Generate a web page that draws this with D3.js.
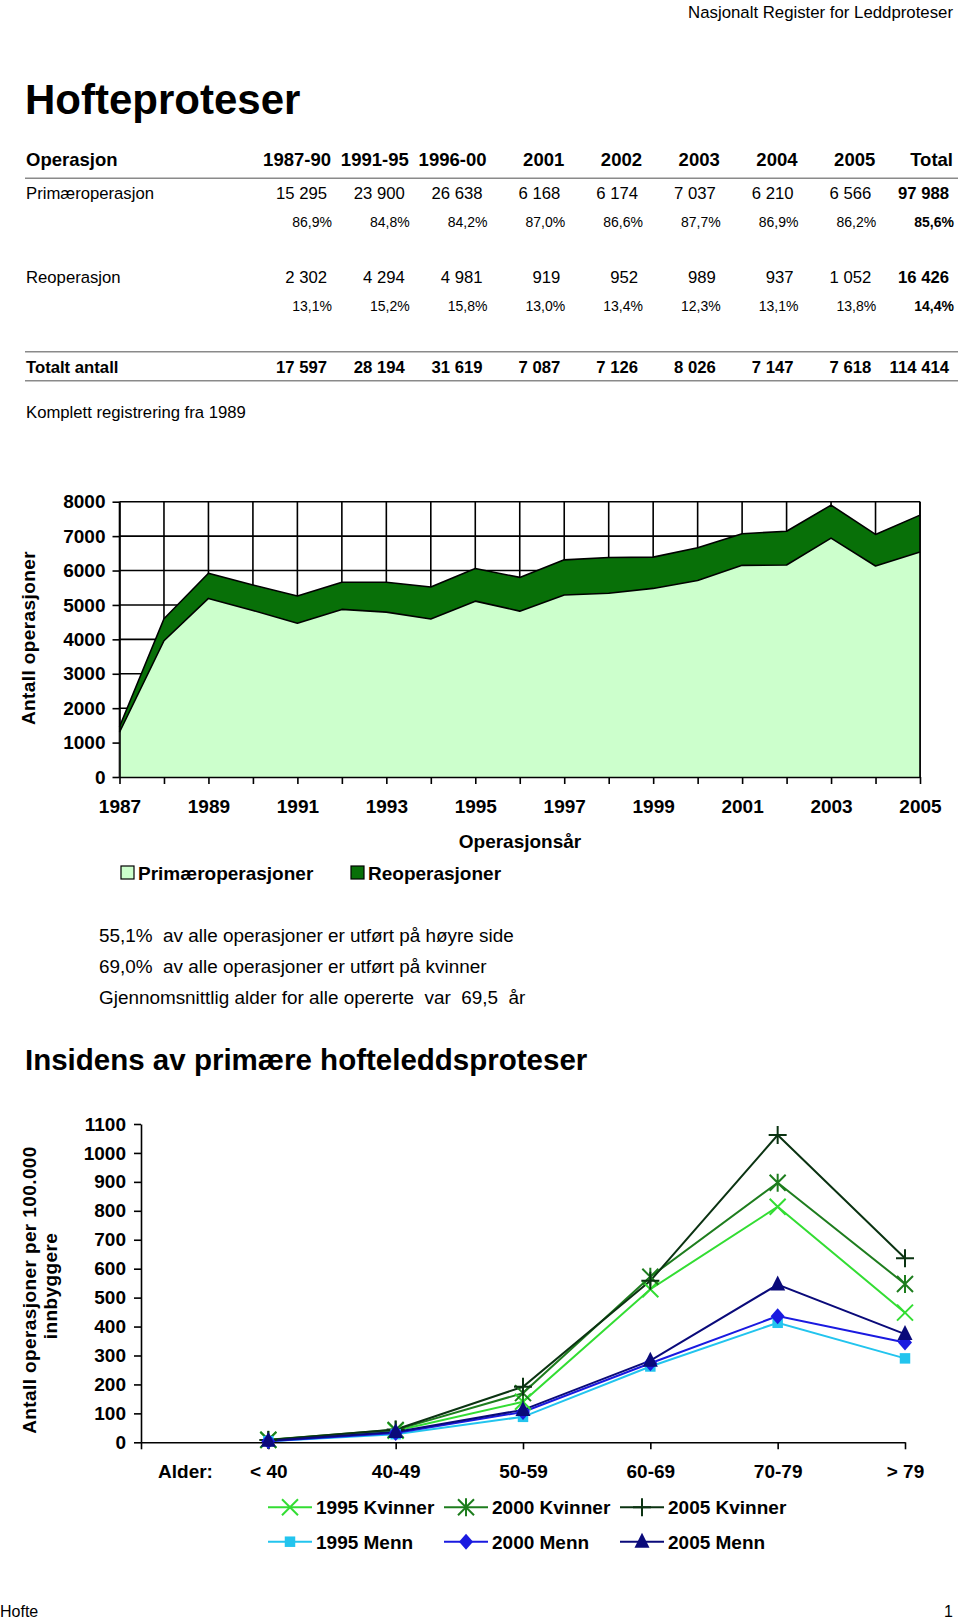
<!DOCTYPE html>
<html><head><meta charset="utf-8">
<script src="https://cdn.jsdelivr.net/npm/d3@7"></script>
<style>
body{margin:0;background:#fff;}
svg{display:block;font-family:"Liberation Sans",Arial,Helvetica,sans-serif;}
text{white-space:pre;}
</style></head><body>
<svg id="c" width="960" height="1620"></svg>
<script>
// ---------- Table data ----------
const periods = ["1987-90","1991-95","1996-00","2001","2002","2003","2004","2005","Total"];
const primaer = [15295,23900,26638,6168,6174,7037,6210,6566,97988];
const primaerPct = [86.9,84.8,84.2,87.0,86.6,87.7,86.9,86.2,85.6];
const reop = [2302,4294,4981,919,952,989,937,1052,16426];
const reopPct = [13.1,15.2,15.8,13.0,13.4,12.3,13.1,13.8,14.4];
const totalt = [17597,28194,31619,7087,7126,8026,7147,7618,114414];

// ---------- Area chart data ----------
const years = [1987,1988,1989,1990,1991,1992,1993,1994,1995,1996,1997,1998,1999,2000,2001,2002,2003,2004,2005];
const primYear = [1300,3960,5190,4840,4470,4870,4790,4590,5110,4820,5290,5340,5480,5710,6150,6160,6940,6130,6540];
const reopYear = [160,640,730,740,790,790,870,930,950,980,1020,1040,910,950,920,980,960,920,1070];
const areaTicks = [0,1000,2000,3000,4000,5000,6000,7000,8000];
const areaSeries = ["Primæroperasjoner","Reoperasjoner"];

// ---------- Line chart data ----------
const ages = ["< 40","40-49","50-59","60-69","70-79","> 79"];
const k1995 = [8,40,140,529,814,448];
const k2000 = [9,43,170,572,897,547];
const k2005 = [8,44,192,558,1062,636];
const m1995 = [4,28,88,262,413,290];
const m2000 = [4,32,105,273,436,345];
const m2005 = [5,36,112,282,545,374];
const lineTicks = [0,100,200,300,400,500,600,700,800,900,1000,1100];
const lineNames = ["1995 Kvinner","2000 Kvinner","2005 Kvinner","1995 Menn","2000 Menn","2005 Menn"];

const svg = d3.select("#c");
svg.append("rect").attr("width",960).attr("height",1620).attr("fill","#fff");

const loc = d3.formatLocale({decimal:",", thousands:" ", grouping:[3], currency:["",""]});
const fmtN = loc.format(",d");
const fmtP = v => loc.format(".1f")(v) + "%";

// ---------- Header ----------
svg.append("text").attr("x",953).attr("y",18).attr("text-anchor","end")
  .attr("font-size",16.8).text("Nasjonalt Register for Leddproteser");
svg.append("text").attr("x",25).attr("y",114).attr("font-size",42).attr("font-weight","bold")
  .text("Hofteproteser");

// ---------- Table ----------
const col = d3.scalePoint().domain(periods).range([331,953]);
const T = svg.append("g");
T.append("text").attr("x",26).attr("y",166).attr("font-size",18.5).attr("font-weight","bold").text("Operasjon");
T.selectAll(".hd").data(periods).join("text").attr("x",d=>col(d)).attr("y",166)
  .attr("text-anchor","end").attr("font-size",18.5).attr("font-weight","bold").text(d=>d);
[178.3,351.7,380.7].forEach(yy=>T.append("line").attr("x1",25).attr("x2",958).attr("y1",yy).attr("y2",yy)
  .attr("stroke","#8a8a8a").attr("stroke-width",1.5));

function numRow(label, vals, y, boldAll){
  T.append("text").attr("x",26).attr("y",y).attr("font-size",16.7)
    .attr("font-weight",boldAll?"bold":"normal").text(label);
  T.selectAll(null).data(vals).join("text").attr("x",(d,i)=>col(periods[i])-4).attr("y",y)
    .attr("text-anchor","end").attr("font-size",16.7)
    .attr("font-weight",(d,i)=>boldAll||i===vals.length-1?"bold":"normal").text(d=>fmtN(d));
}
function pctRow(vals, y){
  T.selectAll(null).data(vals).join("text").attr("x",(d,i)=>col(periods[i])+1).attr("y",y)
    .attr("text-anchor","end").attr("font-size",14)
    .attr("font-weight",(d,i)=>i===vals.length-1?"bold":"normal").text(d=>fmtP(d));
}
numRow("Primæroperasjon", primaer, 199, false);
pctRow(primaerPct, 226.5);
numRow("Reoperasjon", reop, 283, false);
pctRow(reopPct, 310.7);
numRow("Totalt antall", totalt, 373, true);
T.append("text").attr("x",26).attr("y",417.5).attr("font-size",16.7).text("Komplett registrering fra 1989");

// ---------- Area chart ----------
const x1 = d3.scaleLinear().domain([1987,2005]).range([119.5,920]);
const y1 = d3.scaleLinear().domain([0,8000]).range([777,501.7]);
const A = svg.append("g");
A.selectAll(".hg").data(areaTicks.slice(1)).join("line")
  .attr("x1",x1(1987)).attr("x2",x1(2005)).attr("y1",d=>y1(d)).attr("y2",d=>y1(d))
  .attr("stroke","#000").attr("stroke-width",1.6);
A.selectAll(".vg").data(years).join("line")
  .attr("x1",d=>x1(d)).attr("x2",d=>x1(d)).attr("y1",y1(8000)).attr("y2",y1(0))
  .attr("stroke","#000").attr("stroke-width",1.6);

const tbl = years.map((yr,i)=>({year:yr, p:primYear[i], r:reopYear[i]}));
const stack = d3.stack().keys(["p","r"])(tbl);
const areaGen = d3.area().x(d=>x1(d.data.year)).y0(d=>y1(d[0])).y1(d=>y1(d[1]));
const fills = ["#ccffcc","#087008"];
A.selectAll(".ar").data(stack).join("path").attr("d",areaGen).attr("fill",(d,i)=>fills[i]);
const topLine = d3.line().x(d=>x1(d.data.year)).y(d=>y1(d[1]));
A.selectAll(".al").data(stack).join("path").attr("d",topLine).attr("fill","none")
  .attr("stroke","#000").attr("stroke-width",1.6).attr("stroke-linejoin","round");
A.append("line").attr("x1",x1(2005)).attr("x2",x1(2005)).attr("y1",y1(8000)).attr("y2",y1(0))
  .attr("stroke","#000").attr("stroke-width",1.6);

const ax1 = A.append("g").attr("transform",`translate(${x1(1987)},0)`)
  .call(d3.axisLeft(y1).tickValues(areaTicks).tickSize(7).tickSizeOuter(0).tickPadding(7).tickFormat(d3.format("d")));
const ax1b = A.append("g").attr("transform",`translate(0,${y1(0)})`)
  .call(d3.axisBottom(x1).tickValues(years).tickSize(7).tickSizeOuter(0).tickPadding(16)
    .tickFormat(d=> (d-1987)%2===0 ? String(d) : ""));
[ax1,ax1b].forEach(g=>{
  g.selectAll("path,line").attr("stroke","#000").attr("stroke-width",1.6);
  g.selectAll("text").attr("font-size",19).attr("font-weight","bold").attr("fill","#000")
    .attr("font-family","Liberation Sans, Arial, sans-serif");
});
A.append("text").attr("transform","translate(35,638) rotate(-90)").attr("text-anchor","middle")
  .attr("font-size",19).attr("font-weight","bold").attr("letter-spacing",0.4).text("Antall operasjoner");
A.append("text").attr("x",520).attr("y",848).attr("text-anchor","middle")
  .attr("font-size",19).attr("font-weight","bold").text("Operasjonsår");
const legX = [121,351];
areaSeries.forEach((s,i)=>{
  A.append("rect").attr("x",legX[i]).attr("y",866).attr("width",13).attr("height",13)
    .attr("fill",fills[i]).attr("stroke","#000").attr("stroke-width",1.2);
  A.append("text").attr("x",legX[i]+17).attr("y",879.5).attr("font-size",19).attr("font-weight","bold").text(s);
});

// ---------- Text block ----------
const lines = ["55,1%  av alle operasjoner er utført på høyre side",
               "69,0%  av alle operasjoner er utført på kvinner",
               "Gjennomsnittlig alder for alle opererte  var  69,5  år"];
svg.selectAll(".tb").data(lines).join("text").attr("x",99).attr("y",(d,i)=>941.5+i*31)
  .attr("font-size",18.9).text(d=>d);

svg.append("text").attr("x",25).attr("y",1070).attr("font-size",29.5).attr("font-weight","bold")
  .text("Insidens av primære hofteleddsproteser");

// ---------- Line chart ----------
const x2 = d3.scalePoint().domain(["Alder:",...ages]).range([141,905]);
const y2 = d3.scaleLinear().domain([0,1100]).range([1442.3,1124]);
const L = svg.append("g");
const ax2 = L.append("g").attr("transform",`translate(${x2("Alder:")},0)`)
  .call(d3.axisLeft(y2).tickValues(lineTicks).tickSize(7).tickSizeOuter(0).tickPadding(8).tickFormat(d3.format("d")));
const ax2b = L.append("g").attr("transform",`translate(0,${y2(0)})`)
  .call(d3.axisBottom(x2).tickSize(7).tickSizeOuter(0).tickPadding(15));
[ax2,ax2b].forEach(g=>{
  g.selectAll("path,line").attr("stroke","#000").attr("stroke-width",1.6);
  g.selectAll("text").attr("font-size",19).attr("font-weight","bold").attr("fill","#000")
    .attr("font-family","Liberation Sans, Arial, sans-serif");
});
ax2b.selectAll(".tick").filter(d=>d==="Alder:").select("text").attr("x",44);

L.append("text").attr("transform","translate(36,1290) rotate(-90)").attr("text-anchor","middle")
  .attr("font-size",19).attr("font-weight","bold").attr("letter-spacing",0.4).text("Antall operasjoner per 100.000");
L.append("text").attr("transform","translate(56.5,1286) rotate(-90)").attr("text-anchor","middle")
  .attr("font-size",19).attr("font-weight","bold").attr("letter-spacing",0.4).text("innbyggere");

const series = [
  {name:lineNames[0], v:k1995, c:"#33dd33", m:"x"},
  {name:lineNames[1], v:k2000, c:"#1e7d1e", m:"star"},
  {name:lineNames[2], v:k2005, c:"#0b3312", m:"plus"},
  {name:lineNames[3], v:m1995, c:"#22c4ee", m:"square"},
  {name:lineNames[4], v:m2000, c:"#1a1ae0", m:"diamond"},
  {name:lineNames[5], v:m2005, c:"#0a0a7a", m:"triangle"}
];
function marker(g, type, color){
  const s = 8;
  if(type==="x") g.append("path").attr("d",`M${-s},${-s}L${s},${s}M${-s},${s}L${s},${-s}`).attr("stroke",color).attr("stroke-width",2).attr("fill","none");
  else if(type==="star") g.append("path").attr("d",`M${-s},${-s}L${s},${s}M${-s},${s}L${s},${-s}M0,${-s-1}L0,${s+1}`).attr("stroke",color).attr("stroke-width",2).attr("fill","none");
  else if(type==="plus") g.append("path").attr("d",`M${-s-1},0L${s+1},0M0,${-s-1}L0,${s+1}`).attr("stroke",color).attr("stroke-width",2).attr("fill","none");
  else if(type==="square") g.append("path").attr("d",d3.symbol(d3.symbolSquare,110)()).attr("fill",color);
  else if(type==="diamond") g.append("path").attr("d","M0,-8L7,0L0,8L-7,0Z").attr("fill",color);
  else if(type==="triangle") g.append("path").attr("d","M0,-9L7.5,6L-7.5,6Z").attr("fill",color);
}
const lineGen = d3.line().x((d,i)=>x2(ages[i])).y(d=>y2(d));
series.forEach(s=>{
  L.append("path").attr("d",lineGen(s.v)).attr("fill","none").attr("stroke",s.c).attr("stroke-width",2);
});
series.forEach(s=>{
  s.v.forEach((d,i)=>{
    const g = L.append("g").attr("transform",`translate(${x2(ages[i])},${y2(d)})`);
    marker(g, s.m, s.c);
  });
});
const legCols = [268,444,620];
const legRows = [1507.3,1541.7];
series.forEach((s,i)=>{
  const lx = legCols[i%3], ly = legRows[Math.floor(i/3)];
  L.append("line").attr("x1",lx).attr("x2",lx+44).attr("y1",ly).attr("y2",ly).attr("stroke",s.c).attr("stroke-width",2);
  const g = L.append("g").attr("transform",`translate(${lx+22},${ly})`);
  marker(g, s.m, s.c);
  L.append("text").attr("x",lx+48).attr("y",ly+7).attr("font-size",19).attr("font-weight","bold").text(s.name);
});

// ---------- Footer ----------
svg.append("text").attr("x",0).attr("y",1617).attr("font-size",16).text("Hofte");
svg.append("text").attr("x",953).attr("y",1617).attr("text-anchor","end").attr("font-size",16).text("1");
</script>
</body></html>
